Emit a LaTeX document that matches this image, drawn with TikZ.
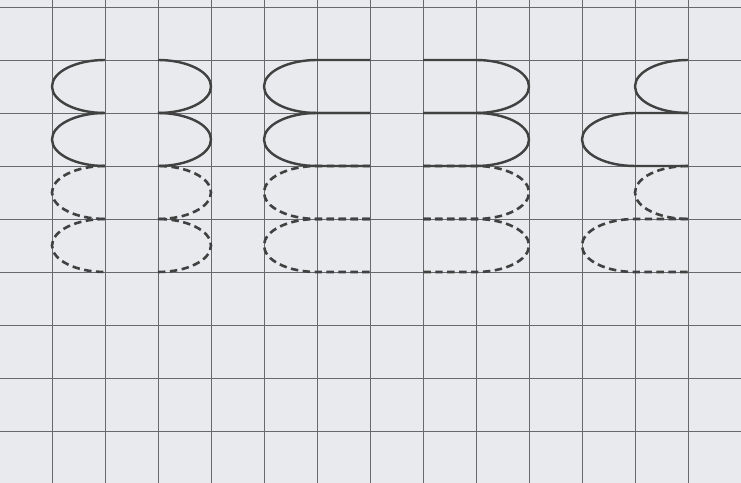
\documentclass[tikz,border=0pt]{standalone}
\begin{document}
\begin{tikzpicture}[x=1cm,y=1cm,
  gridline/.style={draw=gridc, line width=0.5pt},
  solidcurve/.style={draw=curvec, line width=1.3pt},
  dashcurve/.style={draw=curvec, line width=1.4pt, dash pattern=on 4pt off 2.4pt},
]
\definecolor{bgc}{RGB}{233,234,237}
\definecolor{gridc}{RGB}{105,105,108}
\definecolor{curvec}{RGB}{65,65,65}
\fill[bgc] (0.019,0.019) rectangle (14.0,9.132);
\useasboundingbox (0.019,0.019) rectangle (14.0,9.132);
% grid
\foreach \i in {1,...,13} \draw[gridline] (\i,0.019) -- (\i,9.132);
\foreach \j in {1,...,9} \draw[gridline] (0.019,\j) -- (14.0,\j);
% helper macros
\def\lefthalf#1#2#3{\draw[#3] (#1,#2+0.5) arc[start angle=90, end angle=270, x radius=1, y radius=0.5];}
\def\righthalf#1#2#3{\draw[#3] (#1,#2-0.5) arc[start angle=-90, end angle=90, x radius=1, y radius=0.5];}
% shape 1
\foreach \cy/\st in {7.5/solidcurve,6.5/solidcurve,5.5/dashcurve,4.5/dashcurve}{
  \lefthalf{2}{\cy}{\st}
  \righthalf{3}{\cy}{\st}
}
% shape 2
\foreach \cy/\st in {7.5/solidcurve,6.5/solidcurve,5.5/dashcurve,4.5/dashcurve}{
  \draw[\st] (7,\cy+0.5) -- (6,\cy+0.5) arc[start angle=90, end angle=270, x radius=1, y radius=0.5] -- (7,\cy-0.5);
  \draw[\st] (8,\cy+0.5) -- (9,\cy+0.5) arc[start angle=90, end angle=-90, x radius=1, y radius=0.5] -- (8,\cy-0.5);
}
% shape 3
\lefthalf{13}{7.5}{solidcurve}
\draw[solidcurve] (13,7) -- (12,7) arc[start angle=90, end angle=270, x radius=1, y radius=0.5] -- (13,6);
\lefthalf{13}{5.5}{dashcurve}
\draw[dashcurve] (13,5) -- (12,5) arc[start angle=90, end angle=270, x radius=1, y radius=0.5] -- (13,4);
\end{tikzpicture}
\end{document}
